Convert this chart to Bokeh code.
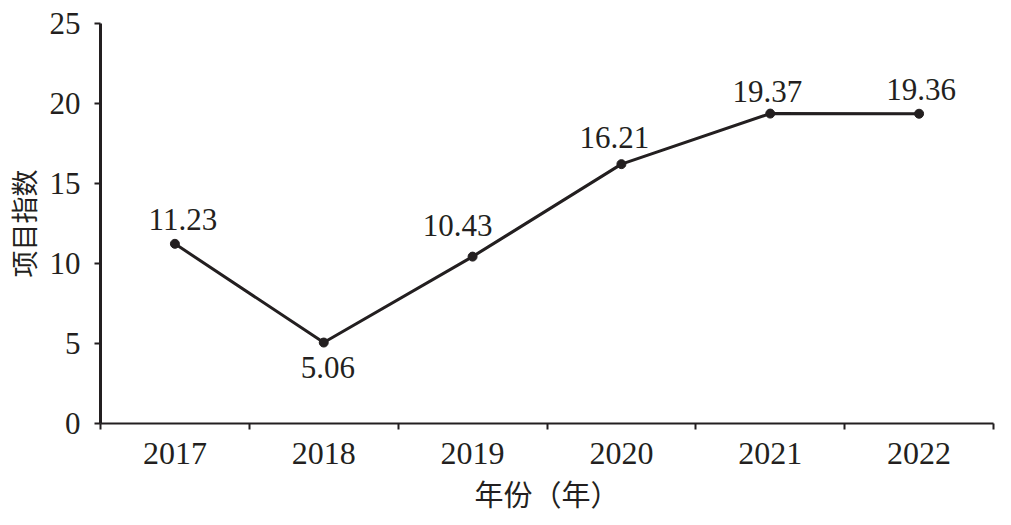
from bokeh.plotting import figure
from bokeh.models import Range1d, FixedTicker, ColumnDataSource
from bokeh.core.properties import value
from bokeh.embed import file_html
from bokeh.resources import INLINE

# ---- data ----
years = ["2017", "2018", "2019", "2020", "2021", "2022"]
index_values = [11.23, 5.06, 10.43, 16.21, 19.37, 19.36]
y_ticks = [0, 5, 10, 15, 20, 25]
x_title = "年份（年）"
y_title = "项目指数"

# label placement (screen px), layout only
label_dx = [8, 4, -15, -7, -3, 2]
label_dy = [-24, 25, -31, -27, -22, -24]

INK = "#231f20"
SERIF = "Liberation Serif"
CJK = "Noto Sans CJK SC"

xs = list(range(1, len(years) + 1))
src = ColumnDataSource(dict(
    x=xs, y=index_values,
    lbl=[f"{v:.2f}" for v in index_values],
    dx=label_dx, dy=label_dy,
))

p = figure(output_backend="svg", toolbar_location=None,
           x_range=Range1d(0.5, len(years) + 0.5), y_range=Range1d(0, 25),
           frame_width=893, frame_height=400,
           min_border_left=98, min_border_top=23, min_border_right=2, min_border_bottom=86)
p.outline_line_color = None
p.grid.visible = False
p.background_fill_color = "white"
p.border_fill_color = "white"

# x axis
xa = p.xaxis[0]
xa.ticker = FixedTicker(ticks=xs, minor_ticks=[i + 0.5 for i in range(0, len(years) + 1)])
xa.major_label_overrides = {i: y for i, y in zip(xs, years)}
xa.major_tick_out = 0
xa.major_tick_in = 0
xa.minor_tick_out = 6
xa.minor_tick_in = 0
xa.minor_tick_line_color = INK
xa.minor_tick_line_width = 2
xa.axis_line_color = INK
xa.axis_line_width = 2
xa.major_label_text_font = SERIF
xa.major_label_text_font_size = "32px"
xa.major_label_text_color = INK
xa.major_label_standoff = 13
xa.axis_label = x_title
xa.axis_label_text_font = CJK
xa.axis_label_text_font_size = "29px"
xa.axis_label_text_font_style = "normal"
xa.axis_label_text_color = INK
xa.axis_label_standoff = 5

# y axis
ya = p.yaxis[0]
ya.ticker = FixedTicker(ticks=y_ticks)
ya.minor_tick_line_color = None
ya.major_tick_out = 6
ya.major_tick_in = 0
ya.major_tick_line_color = INK
ya.major_tick_line_width = 2
ya.axis_line_color = INK
ya.axis_line_width = 3
ya.major_label_text_font = SERIF
ya.major_label_text_font_size = "31px"
ya.major_label_text_color = INK
ya.major_label_standoff = 14
ya.axis_label = y_title
ya.axis_label_text_font = CJK
ya.axis_label_text_font_size = "27px"
ya.axis_label_text_font_style = "normal"
ya.axis_label_text_color = INK
ya.axis_label_standoff = 4

p.line("x", "y", source=src, line_color=INK, line_width=3)
p.scatter("x", "y", source=src, size=9, fill_color=INK, line_color=INK)
p.text("x", "y", text="lbl", source=src, x_offset="dx", y_offset="dy",
       text_font=value(SERIF), text_font_size="31px", text_color=INK,
       text_align="center", text_baseline="alphabetic")

open("out.html", "w").write(file_html(p, INLINE))
